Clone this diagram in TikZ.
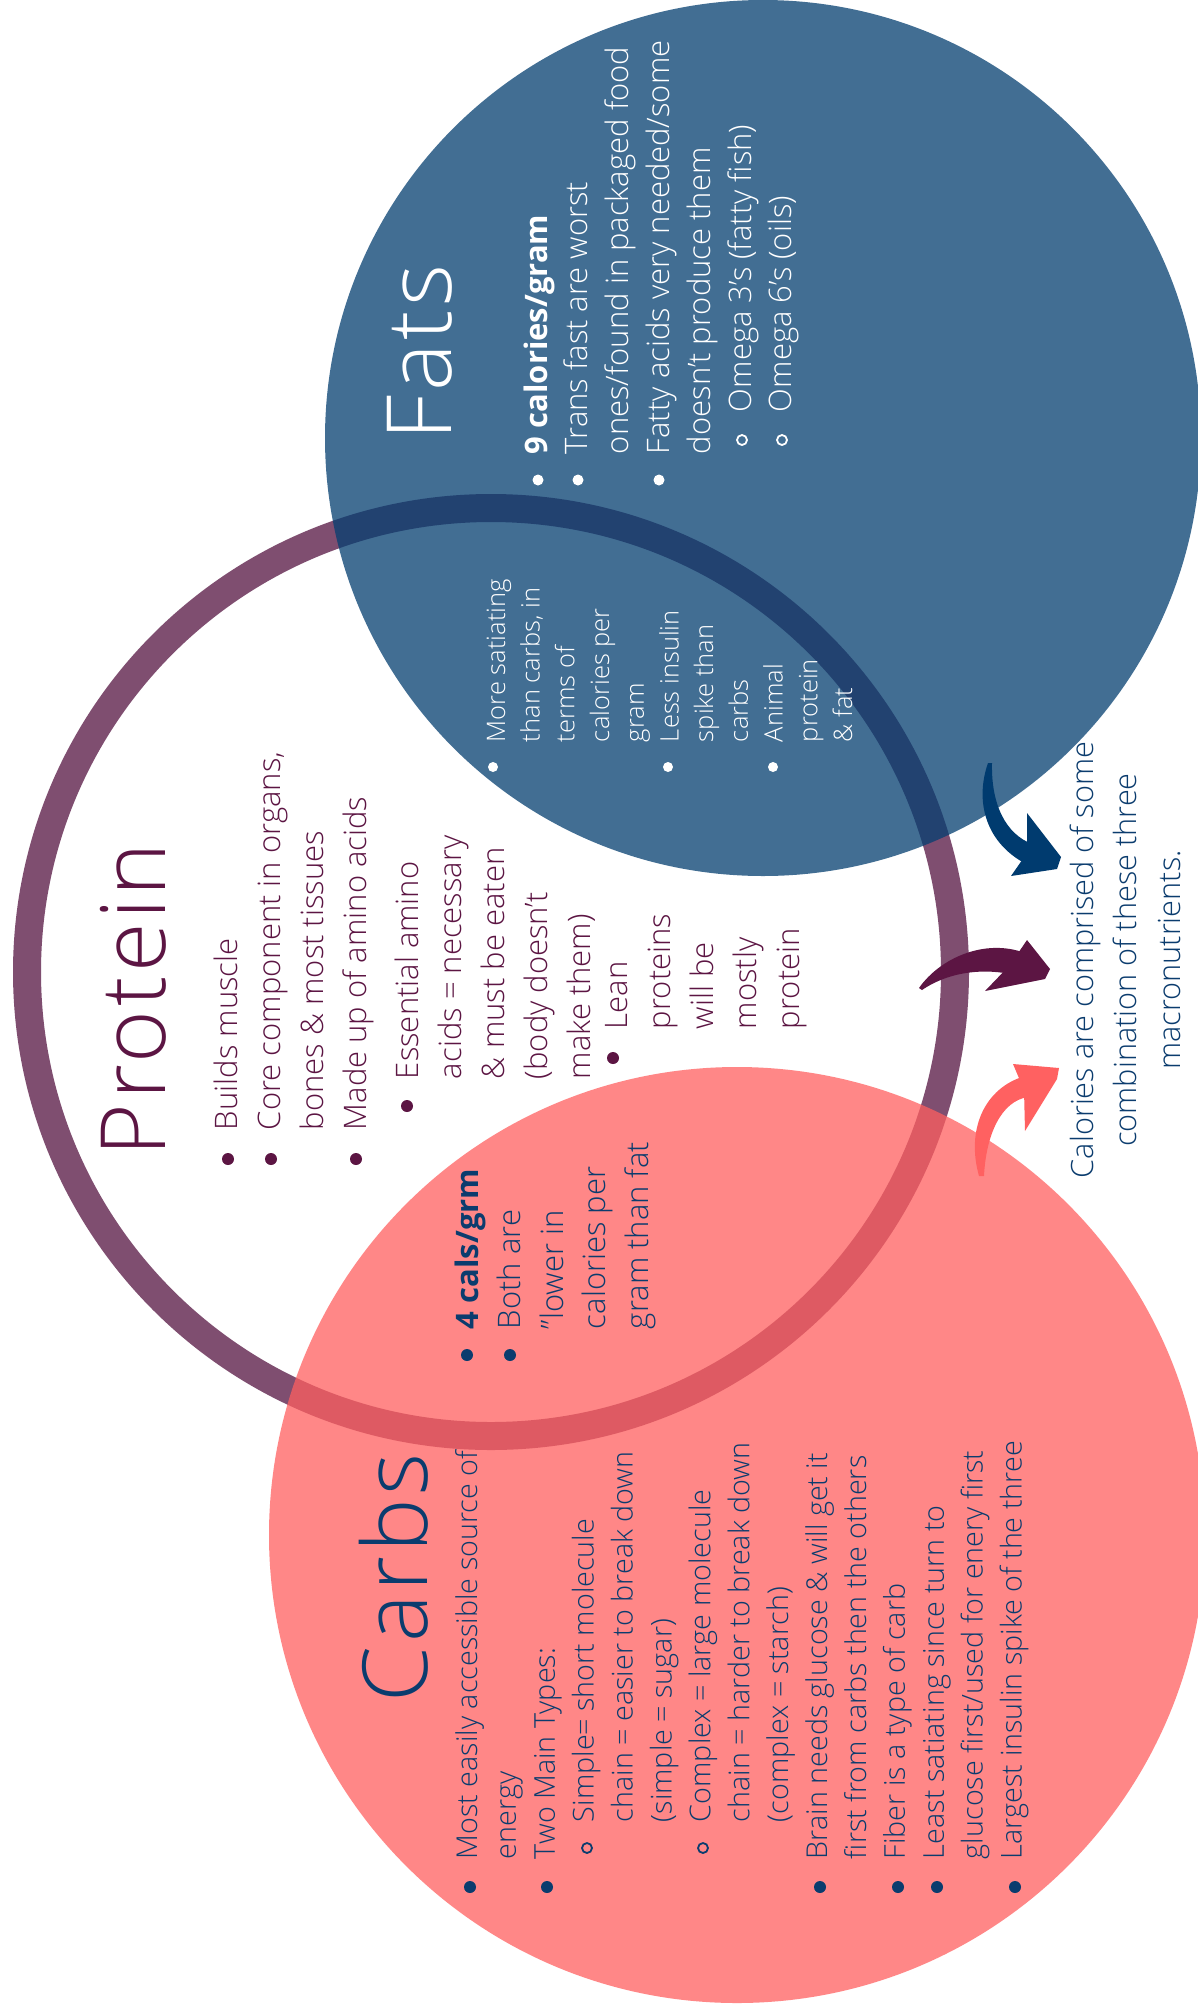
\documentclass[tikz,border=0pt]{standalone}
\usepackage{fontspec}
\IfFontExistsTF{Open Sans Light}{\setmainfont{Open Sans}[UprightFont={* Light}, BoldFont={* Bold}]}{\setmainfont{Open Sans}}
\definecolor{fatsc}{HTML}{033E70}
\definecolor{carbsfill}{HTML}{FF5F5F}
\definecolor{ringc}{HTML}{7F4E70}
\definecolor{protc}{HTML}{5C1543}
\definecolor{carbc}{HTML}{0B3C6E}
\definecolor{arrblue}{HTML}{003B6F}
\definecolor{arrcoral}{HTML}{FF6161}
\newcommand\Blk[2]{\vtop{\baselineskip=#1\relax\lineskiplimit=-1000pt\lineskip=0pt\relax #2}}
\newcommand\Ln[2]{\hbox{\hskip#1\relax #2}}
\tikzset{
  txt/.style={rotate=90, anchor=base west, inner sep=0pt, outer sep=0pt},
  bigtitle/.style={txt, font=\fontsize{90}{100}\selectfont\addfontfeatures{LetterSpace=4}},
  dotmark/.style={fill=#1},
  ringmark/.style={draw=#1, line width=1.8pt},
}
\begin{document}
\begin{tikzpicture}[x=1pt, y=-1pt]
\fill[white] (0,0) rectangle (1197,2011);
\useasboundingbox (0,0) rectangle (1197,2011);

% circles
\draw[ringc, line width=28pt] (491,972) circle[radius=464pt];
\fill[fatsc, opacity=0.75] (763,438) circle[radius=438pt];
\fill[carbsfill, opacity=0.75] (737,1535) circle[radius=468pt];

% callout text
\node[rotate=90, anchor=base, inner sep=0pt, text=carbc, font=\fontsize{30.7}{43.5}\selectfont] (calories) at (1093,960)
 {\Blk{43.5pt}{\hbox to 500pt{\hss Calories are comprised of some\hss}\hbox to 500pt{\hss combination of these three\hss}\hbox to 500pt{\hss macronutrients.\hss}}};

% arrows (brush style)
\coordinate (fatsTail) at (988,763);
\coordinate (protTail) at (919,988);
\coordinate (carbTail) at (979,1176);
\fill[arrblue] (fatsTail) .. controls (975,800) and (984,844) .. (1030,866) -- (1032,844) .. controls (1006,834) and (991,805) .. (992,763) -- cycle;
\fill[arrblue] (1027,813) -- (1061,857) -- (1057,869) -- (1011,876) -- (1027,853) -- cycle;
\fill[protc] (protTail) .. controls (940,958) and (985,938) .. (1025,953) -- (1015,975) .. controls (985,968) and (950,971) .. (922,990) -- cycle;
\fill[protc] (1027,940) -- (1050,969) -- (1045,979) -- (985,991) -- (1010,965) -- cycle;
\fill[arrcoral] (carbTail) .. controls (966,1130) and (984,1088) .. (1025,1076) -- (1028,1097) .. controls (1001,1101) and (986,1135) .. (984,1176) -- cycle;
\fill[arrcoral] (1013,1064) -- (1059,1068) -- (1057,1079) -- (1025,1131) -- (1024,1090) -- cycle;

% Fats
\node[bigtitle, text=white] (fatsTitle) at (451,440) {Fats};
\node[txt, text=white, font=\fontsize{31}{40.8}\selectfont] (fatsList) at (547,454) {\Blk{40.8pt}{%
 \Ln{0pt}{\bfseries 9 calories/gram}
 \Ln{0pt}{Trans fast are worst}
 \Ln{0pt}{ones/found in packaged food}
 \Ln{0pt}{Fatty acids very needed/some}
 \Ln{0pt}{doesn't produce them}
 \Ln{42pt}{Omega 3's (fatty fish)}
 \Ln{42pt}{Omega 6's (oils)}}};
\foreach \bx in {538,578,659} \fill[dotmark=white] (\bx,480) circle[radius=5.5pt];
\foreach \bx in {742,782} \draw[ringmark=white] (\bx,440) circle[radius=5pt];

% Fats & Protein
\node[txt, text=white, font=\fontsize{25.5}{34.7}\selectfont] (bothFP) at (505,742) {\Blk{34.7pt}{%
 \Ln{0pt}{More satiating}
 \Ln{0pt}{than carbs, in}
 \Ln{0pt}{terms of}
 \Ln{0pt}{calories per}
 \Ln{0pt}{gram}
 \Ln{0pt}{Less insulin}
 \Ln{0pt}{spike than}
 \Ln{0pt}{carbs}
 \Ln{0pt}{Animal}
 \Ln{0pt}{protein}
 \Ln{0pt}{\& fat}}};
\foreach \bx in {493,668,773} \fill[dotmark=white] (\bx,767) circle[radius=5pt];

% Protein
\node[bigtitle, text=protc] (protTitle) at (165,1156) {Protein};
\node[txt, text=protc, font=\fontsize{31}{43}\selectfont] (protList) at (237,1130) {\Blk{43pt}{%
 \Ln{0pt}{Builds muscle}
 \Ln{0pt}{Core component in organs,}
 \Ln{0pt}{bones \& most tissues}
 \Ln{0pt}{Made up of amino acids}
 \vskip9pt
 \Ln{51pt}{Essential amino}
 \Ln{51pt}{acids = necessary}
 \Ln{51pt}{\& must be eaten}
 \Ln{51pt}{(body doesn't}
 \Ln{51pt}{make them)}
 \vskip-6pt
 \Ln{101pt}{Lean}
 \Ln{101pt}{proteins}
 \Ln{101pt}{will be}
 \Ln{101pt}{mostly}
 \Ln{101pt}{protein}}};
\foreach \bx in {228,271,356} \fill[dotmark=protc] (\bx,1159) circle[radius=6pt];
\fill[dotmark=protc] (407,1106) circle[radius=6pt];
\fill[dotmark=protc] (613,1058) circle[radius=6pt];

% Protein & Carbs
\node[txt, text=carbc, font=\fontsize{31}{42.5}\selectfont] (bothPC) at (478,1329) {\Blk{42.5pt}{%
 \Ln{0pt}{\bfseries 4 cals/grm}
 \Ln{0pt}{Both are}
 \Ln{0pt}{\symbol{34}lower in}
 \Ln{0pt}{calories per}
 \Ln{0pt}{gram than fat}}};
\foreach \bx in {467,510} \fill[dotmark=carbc] (\bx,1355) circle[radius=6pt];

% Carbs
\node[bigtitle, text=carbc] (carbTitle) at (427,1702) {Carbs};
\node[txt, text=carbc, font=\fontsize{28.7}{38.9}\selectfont] (carbList) at (477,1859) {\Blk{38.9pt}{%
 \Ln{0pt}{Most easily accessible source of}
 \Ln{0pt}{energy}
 \Ln{0pt}{Two Main Types:}
 \Ln{37pt}{Simple= short molecule}
 \Ln{37pt}{chain = easier to break down}
 \Ln{37pt}{(simple = sugar)}
 \Ln{37pt}{Complex = large molecule}
 \Ln{37pt}{chain = harder to break down}
 \Ln{37pt}{(complex = starch)}
 \Ln{0pt}{Brain needs glucose \& will get it}
 \Ln{0pt}{first from carbs then the others}
 \Ln{0pt}{Fiber is a type of carb}
 \Ln{0pt}{Least satiating since turn to}
 \Ln{0pt}{glucose first/used for enery first}
 \Ln{0pt}{Largest insulin spike of the three}}};
\foreach \bx in {470,547,820,898,937,1015} \fill[dotmark=carbc] (\bx,1887) circle[radius=6pt];
\foreach \bx in {587,703} \draw[ringmark=carbc] (\bx,1848) circle[radius=5pt];
\end{tikzpicture}
\end{document}
